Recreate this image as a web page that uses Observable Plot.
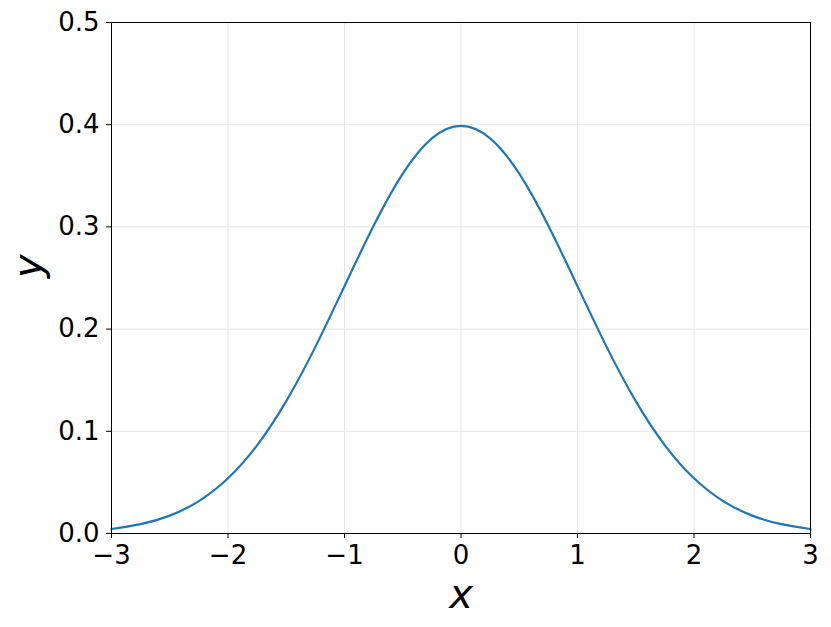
<!DOCTYPE html>
<html><head><meta charset="utf-8">
<script src="https://cdn.jsdelivr.net/npm/d3@7"></script>
<script src="https://cdn.jsdelivr.net/npm/@observablehq/plot@0.6"></script>
<style>body{margin:0;background:#fff;} svg text{font-family:"DejaVu Sans";}</style>
</head><body><div id="chart"></div>
<script>
const xs = [-3,-2.75,-2.5,-2.25,-2,-1.75,-1.5,-1.25,-1,-0.75,-0.5,-0.25,0,0.25,0.5,0.75,1,1.25,1.5,1.75,2,2.25,2.5,2.75,3];
const ys = [0.0044,0.0091,0.0175,0.0317,0.054,0.0863,0.1295,0.1826,0.242,0.3011,0.3521,0.3867,0.3989,0.3867,0.3521,0.3011,0.242,0.1826,0.1295,0.0863,0.054,0.0317,0.0175,0.0091,0.0044];
const xTicks = [-3,-2,-1,0,1,2,3];
const yTicks = [0,0.1,0.2,0.3,0.4,0.5];
const data = xs.map((x,i)=>({x, y: ys[i]}));
const fmtX = d => String(d).replace("-", "\u2212");
const chart = Plot.plot({
  width: 831, height: 627,
  marginLeft: 111, marginRight: 21, marginTop: 22, marginBottom: 94,
  style: {fontFamily: "DejaVu Sans", fontSize: "26px", color: "#000", background: "#fff"},
  x: {domain: [-3,3], label: null},
  y: {domain: [0,0.5], label: null},
  marks: [
    Plot.gridX(xTicks, {stroke: "#e5e5e5", strokeOpacity: 1}),
    Plot.gridY(yTicks, {stroke: "#e5e5e5", strokeOpacity: 1}),
    Plot.line(data, {x: "x", y: "y", stroke: "#1f77b4", strokeWidth: 2.2, curve: "natural"}),
    Plot.frame({stroke: "#000", strokeWidth: 1}),
    Plot.axisX({ticks: xTicks, tickFormat: fmtX, tickSize: 5, tickPadding: 7, fontSize: 26, label: null}),
    Plot.axisY({ticks: yTicks, tickFormat: d3.format(".1f"), tickSize: 5, tickPadding: 7, fontSize: 26, label: null}),
    Plot.text(["x"], {frameAnchor: "bottom", dy: 74, fontSize: 40, fontStyle: "italic"}),
    Plot.text(["y"], {frameAnchor: "left", dx: -82, rotate: -90, fontSize: 40, fontStyle: "italic"})
  ]
});
document.getElementById("chart").appendChild(chart);
</script></body></html>
